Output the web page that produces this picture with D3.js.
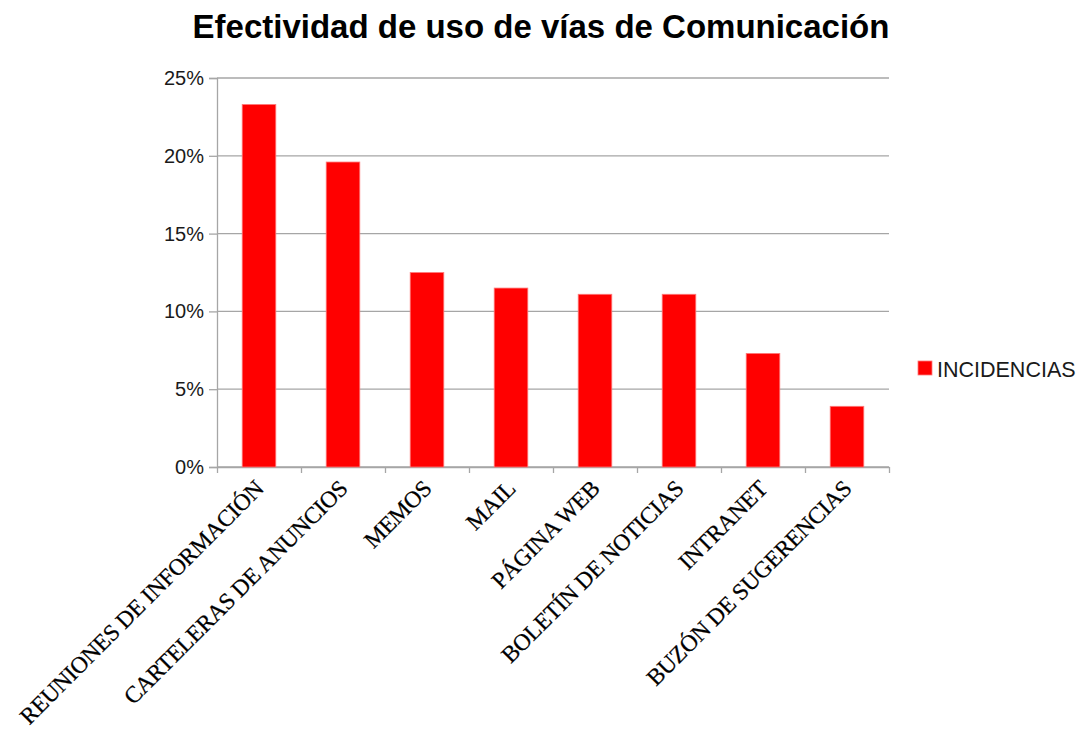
<!DOCTYPE html>
<html>
<head>
<meta charset="utf-8">
<script src="https://cdn.jsdelivr.net/npm/d3@7"></script>
<style>
  body { margin: 0; background: #fff; }
  svg { display: block; }
</style>
</head>
<body>
<div id="chart"></div>
<script>
// Data
const categories = [
  "REUNIONES DE INFORMACIÓN",
  "CARTELERAS DE ANUNCIOS",
  "MEMOS",
  "MAIL",
  "PÁGINA WEB",
  "BOLETÍN DE NOTICIAS",
  "INTRANET",
  "BUZÓN DE SUGERENCIAS"
];
const incidencias = [0.233, 0.196, 0.125, 0.115, 0.111, 0.111, 0.073, 0.039];
const yTicks = [0, 0.05, 0.10, 0.15, 0.20, 0.25];
const seriesName = "INCIDENCIAS";
const chartTitle = "Efectividad de uso de vías de Comunicación";

const width = 1085, height = 733;
const margin = { top: 78, right: 196, bottom: 266, left: 217 };
const innerW = width - margin.left - margin.right;
const innerH = height - margin.top - margin.bottom;

const svg = d3.select("#chart")
  .append("svg")
  .attr("width", width)
  .attr("height", height);

// title
svg.append("text")
  .attr("x", 541)
  .attr("y", 38)
  .attr("text-anchor", "middle")
  .style("font-family", "'Liberation Sans', Arial, sans-serif")
  .style("font-size", "33px")
  .style("font-weight", "bold")
  .style("fill", "#000")
  .text(chartTitle);

const g = svg.append("g")
  .attr("transform", `translate(${margin.left}, ${margin.top})`);

const x = d3.scaleBand()
  .domain(categories)
  .range([0, innerW])
  .paddingInner(0.6)
  .paddingOuter(0.3);

// helper scale for ticks on band edges
const xEdge = d3.scaleLinear()
  .domain([0, categories.length])
  .range([0, innerW]);

const y = d3.scaleLinear()
  .domain([0, 0.25])
  .range([innerH, 0]);

// gridlines
g.append("g")
  .attr("class", "grid")
  .selectAll("line")
  .data(yTicks)
  .enter()
  .append("line")
  .attr("x1", 0)
  .attr("x2", innerW)
  .attr("y1", d => y(d))
  .attr("y2", d => y(d))
  .style("stroke", "#a6a6a6")
  .style("stroke-width", 1.3);

// y axis
const yAxis = d3.axisLeft(y)
  .tickValues(yTicks)
  .tickSize(8)
  .tickPadding(5)
  .tickFormat(d3.format(".0%"));

const yG = g.append("g").attr("class", "y-axis").call(yAxis);
yG.select(".domain").style("stroke", "#a6a6a6").style("stroke-width", 1.3);
yG.selectAll(".tick line").style("stroke", "#a6a6a6").style("stroke-width", 1.3);
yG.selectAll(".tick text")
  .style("font-family", "'Liberation Sans', Arial, sans-serif")
  .style("font-size", "20px")
  .style("fill", "#1a1a1a");

// x axis ticks (at band edges)
const xEdgeAxis = d3.axisBottom(xEdge)
  .tickValues(d3.range(categories.length + 1))
  .tickSize(6)
  .tickSizeOuter(0)
  .tickFormat("");

const xG = g.append("g")
  .attr("class", "x-axis")
  .attr("transform", `translate(0, ${innerH})`)
  .call(xEdgeAxis);
xG.select(".domain").style("stroke", "#a6a6a6").style("stroke-width", 1.3);
xG.selectAll(".tick line").style("stroke", "#a6a6a6").style("stroke-width", 1.3);

// x labels, rotated
const xLabels = g.append("g")
  .attr("class", "x-labels")
  .attr("transform", `translate(0, ${innerH})`)
  .call(d3.axisBottom(x).tickSize(0).tickPadding(0));
xLabels.select(".domain").remove();
xLabels.selectAll(".tick text")
  .attr("text-anchor", "end")
  .attr("dy", 0)
  .attr("transform", "translate(6, 23) rotate(-45)")
  .style("font-family", "'Liberation Serif', 'Times New Roman', serif")
  .style("font-size", "23.4px")
  .style("letter-spacing", "-0.3px")
  .style("fill", "#000")
  .style("stroke", "#000")
  .style("stroke-width", 0.25);

// bars
g.selectAll(".bar")
  .data(incidencias)
  .enter()
  .append("rect")
  .attr("class", "bar")
  .attr("x", (d, i) => x(categories[i]))
  .attr("y", d => y(d))
  .attr("width", x.bandwidth())
  .attr("height", d => innerH - y(d))
  .style("fill", "#ff0000")
  .style("stroke", "#ff7a7a")
  .style("stroke-width", 0.8);

// legend
const legend = svg.append("g")
  .attr("class", "legend")
  .attr("transform", "translate(918, 361)");

legend.append("rect")
  .attr("width", 14)
  .attr("height", 14)
  .style("fill", "#ff0000")
  .style("stroke", "#ff7a7a")
  .style("stroke-width", 0.8);

legend.append("text")
  .attr("x", 19)
  .attr("y", 15.5)
  .style("font-family", "'Liberation Sans', Arial, sans-serif")
  .style("font-size", "21.5px")
  .style("fill", "#1a1a1a")
  .text(seriesName);
</script>
</body>
</html>
